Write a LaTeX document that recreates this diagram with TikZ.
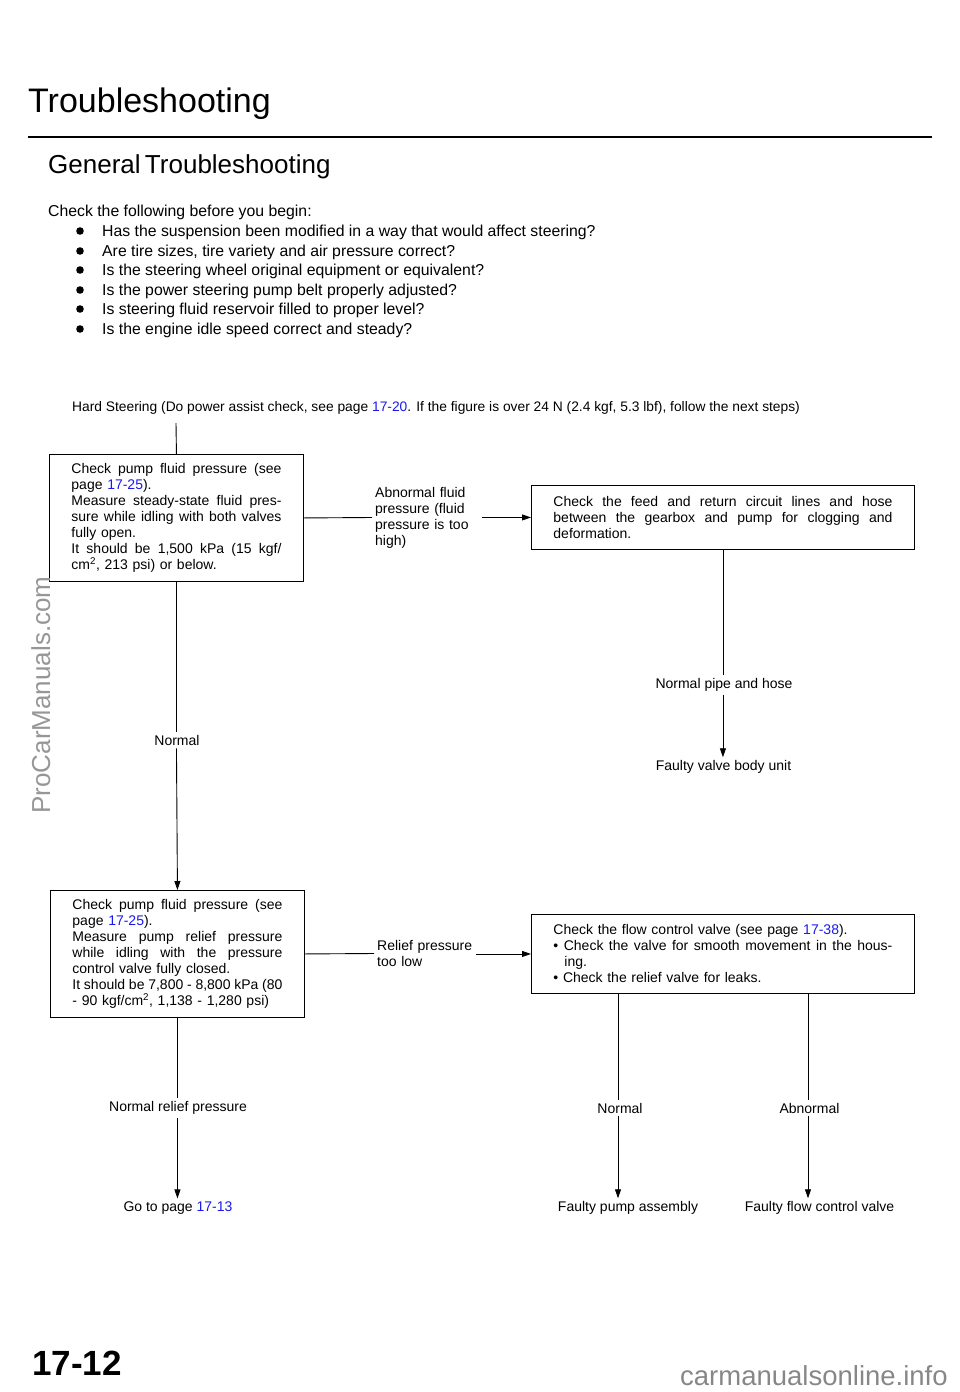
\documentclass[tikz,border=0pt]{standalone}
\usepackage{fontspec}
\setmainfont{Liberation Sans}
\usetikzlibrary{arrows.meta}
\definecolor{linkblue}{RGB}{25,25,235}
\definecolor{wmgray}{RGB}{150,150,150}
\newcommand\lnk[1]{\textcolor{linkblue}{#1}}
\newcommand\jl[2][210pt]{\leavevmode\hbox to #1{\spaceskip=0.27em plus 3em minus 0.08em\xspaceskip=\spaceskip #2}}
\begin{document}
\begin{tikzpicture}[x=1pt,y=-1pt,
  box/.style={draw, line width=0.9pt, anchor=north west, inner xsep=0pt, inner ysep=0pt, align=left, font=\fontsize{14}{16}\selectfont},
  lbl/.style={font=\fontsize{14}{16}\selectfont, inner sep=3pt},
  conn/.style={line width=0.9pt},
  arr/.style={conn, -{Triangle[length=9pt,width=6pt]}},
  plain/.style={anchor=base west, inner sep=0pt},
]
\useasboundingbox (0,0) rectangle (960,1392);
% headings
\node[plain, font=\fontsize{34}{40}\selectfont] (title) at (28,112) {Troubleshooting};
\draw[line width=2.5pt] (28,137) -- (932,137);
\node[plain, font=\fontsize{26}{30}\selectfont] (sub) at (48,173) {General\,Troubleshooting};
\node[plain, font=\fontsize{15.8}{18}\selectfont] (intro) at (48,216) {Check the following before you begin:};
\foreach \yy/\tx [count=\i] in {236/{Has the suspension been modified in a way that would affect steering?},
  256/{Are tire sizes, tire variety  and air pressure correct?},
  275/{Is the steering wheel original equipment or equivalent?},
  295/{Is the power steering pump belt properly adjusted?},
  314/{Is steering fluid reservoir filled to proper level?},
  334/{Is the engine idle speed correct and steady?}}{
  \fill (80,\yy-5) circle (3.8pt);
  \node[plain, font=\fontsize{15.8}{18}\selectfont] (q\i) at (102,\yy) {\tx};
}
\node[plain, font=\fontsize{13.8}{16}\selectfont] (hard) at (72,411) {Hard Steering (Do power assist check, see page \lnk{17-20}. If the figure is over 24 N (2.4 kgf, 5.3 lbf), follow the next steps)};
\coordinate (top) at (176,423);
% boxes
\node[box, minimum width=254pt, minimum height=127pt, text width=210pt] (b1) at (49,454) {%
\jl{Check pump fluid pressure (see}\\
page \lnk{17-25}).\\
\jl{Measure steady-state fluid pres-}\\
\jl{sure while idling with both valves}\\
fully open.\\
\jl{It should be 1,500 kPa (15 kgf/}\\
cm\textsuperscript{2}, 213 psi) or below.};
\node[box, minimum width=383pt, minimum height=64pt, text width=339pt] (b2) at (531,485) {%
\jl[339pt]{Check the feed and return circuit lines and hose}\\
\jl[339pt]{between the gearbox and pump for clogging and}\\
deformation.};
\node[box, minimum width=254pt, minimum height=127pt, text width=210pt] (b3) at (50,890) {%
\jl{Check pump fluid pressure (see}\\
page \lnk{17-25}).\\
\jl{Measure pump relief pressure}\\
\jl{while idling with the pressure}\\
control valve fully closed.\\
\jl{It should be 7,800 - 8,800 kPa (80}\\
- 90 kgf/cm\textsuperscript{2}, 1,138 - 1,280 psi)};
\node[box, minimum width=383pt, minimum height=79pt, text width=339pt] (b4) at (531,914) {%
Check the flow control valve (see page \lnk{17-38}).\\
\jl[339pt]{\textbullet\ Check the valve for smooth movement in the hous-}\\
\hspace*{11pt}ing.\\
\textbullet\ Check the relief valve for leaks.};
% labels
\node[lbl, anchor=west, align=left, text width=104pt] (lab1) at (372,517.5) {Abnormal fluid\\pressure (fluid\\pressure is too\\high)};
\node[lbl, anchor=west, align=left, text width=96pt] (lab2) at (374,953.5) {Relief pressure\\too low};
\node[lbl] (n1) at (177,740) {Normal};
\node[lbl] (n2) at (724,685) {Normal pipe and hose};
\node[lbl] (f2) at (723.5,767) {Faulty valve body unit};
\node[lbl] (n3) at (178,1108) {Normal relief pressure};
\node[lbl] (f3) at (178,1208) {Go to page \lnk{17-13}};
\node[lbl] (n4) at (620,1108) {Normal};
\node[lbl] (f4) at (628,1208) {Faulty pump assembly};
\node[lbl] (n5) at (809.5,1108) {Abnormal};
\node[lbl] (f5) at (819.5,1208) {Faulty flow control valve};
\coordinate (c4) at ([xshift=87pt]b4.south west);
\coordinate (c5) at ([xshift=277pt]b4.south west);
% connectors
\draw[conn] (top) -- (b1.north);
\draw[conn] (b1.east) -- (lab1.west);
\draw[arr] (lab1.east |- b2.west) -- (b2.west);
\draw[conn] (b2.south) -- (b2.south |- n2.north);
\draw[arr] (b2.south |- n2.south) -- (b2.south |- f2.north);
\draw[conn] (b1.south) -- (b1.south |- n1.north);
\draw[arr] (b1.south |- n1.south) -- (b3.north);
\draw[conn] (b3.east) -- (lab2.west);
\draw[arr] (lab2.east |- b4.west) -- (b4.west);
\draw[conn] (b3.south) -- (b3.south |- n3.north);
\draw[arr] (b3.south |- n3.south) -- (b3.south |- f3.north);
\draw[conn] (c4) -- (c4 |- n4.north);
\draw[arr] (c4 |- n4.south) -- (c4 |- f4.north);
\draw[conn] (c5) -- (c5 |- n5.north);
\draw[arr] (c5 |- n5.south) -- (c5 |- f5.north);
% footer and watermarks
\node[plain, font=\fontsize{35}{40}\selectfont\bfseries] (pg) at (32,1375) {17-12};
\node[plain, font=\fontsize{27.5}{30}\selectfont, text=wmgray!90!black] (wm2) at (680,1385) {carmanualsonline.info};
\node[anchor=base, inner sep=0pt, rotate=90, font=\fontsize{26}{30}\selectfont, text=wmgray] (wm1) at (50,695) {ProCarManuals.com};
\end{tikzpicture}
\end{document}
